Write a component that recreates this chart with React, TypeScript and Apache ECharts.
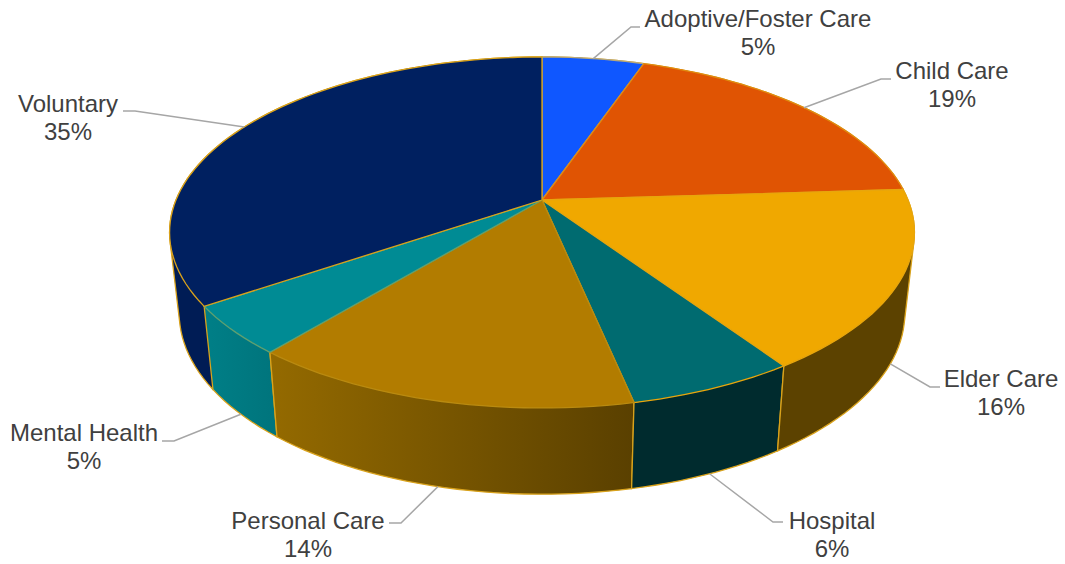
import React, { useEffect, useRef } from "react";
import * as echarts from "echarts";

const categories = ["Adoptive/Foster Care", "Child Care", "Elder Care", "Hospital", "Personal Care", "Mental Health", "Voluntary"];
const values = [5.3, 18.7, 16.55, 6.15, 14.3, 4.5, 34.5];
const percentLabels = ["5%", "19%", "16%", "6%", "14%", "5%", "35%"];

const topColors = ["#0F57FF", "#E05403", "#F0A800", "#006B70", "#B27C00", "#008B94", "#002060"];
const wallColorsStart = ["#0A3CB0", "#9C3A02", "#5C4200", "#002B2E", "#946A00", "#007F87", "#001C55"];
const wallColorsEnd = ["#0A3CB0", "#9C3A02", "#5C4200", "#002B2E", "#5A4000", "#00747C", "#001C55"];
const topStrokes = ["#B9A878", "#E08A10", "#E8A60C", "#E8A60C", "#B98A10", "#5FA070", "#D9A21B"];

// label layout: [text centre x, text centre y, elbow x, elbow y, end x]
const labelLayout = [
  [758, 32, 631, 27, 640],
  [952, 84, 881, 79, 891],
  [1001, 392, 930, 387, 940],
  [832, 534, 773, 522, 783],
  [308, 534, 401, 523, 389],
  [84, 446, 174, 441, 162],
  [68, 117, 135, 111, 123],
];
const labelOnWall = [false, false, true, true, true, true, false];

const CX = 542;
const CY = 200;
const RX = 366;
const RY = 169.5;
const PERSPECTIVE = 0.185;
const WALL_SCALE_X = 0.974;
const WALL_SCALE_Y = 1.03;
const WALL_OFFSET_Y = 74;
const EDGE = "#D9A21B";

const total = values.reduce((a, b) => a + b, 0);
const cumulative: number[] = [];
values.reduce((acc, v, i) => {
  cumulative[i] = acc;
  return acc + v;
}, 0);

function rim(share: number): number[] {
  const theta = (share / total) * Math.PI * 2;
  const X = Math.sin(theta);
  const Y = -Math.cos(theta);
  const w = 1 / (1 - PERSPECTIVE * Y);
  return [CX + RX * X * w, CY + RY * Y * w];
}
function foot(p: number[]): number[] {
  return [CX + WALL_SCALE_X * (p[0] - CX), WALL_OFFSET_Y + WALL_SCALE_Y * p[1]];
}
function arc(from: number, to: number): number[][] {
  const n = Math.max(2, Math.ceil((to - from) * 2));
  const pts: number[][] = [];
  for (let i = 0; i <= n; i++) pts.push(rim(from + ((to - from) * i) / n));
  return pts;
}
// The wall's silhouette: its top edge is hidden by the lid, so the hull also gives the tangent sides.
function hull(points: number[][]): number[][] {
  const p = points.slice().sort((a, b) => a[0] - b[0] || a[1] - b[1]);
  const cross = (o: number[], a: number[], b: number[]) => (a[0] - o[0]) * (b[1] - o[1]) - (a[1] - o[1]) * (b[0] - o[0]);
  const half = (list: number[][]) => {
    const out: number[][] = [];
    for (const q of list) {
      while (out.length >= 2 && cross(out[out.length - 2], out[out.length - 1], q) <= 0) out.pop();
      out.push(q);
    }
    out.pop();
    return out;
  };
  return half(p).concat(half(p.slice().reverse()));
}

export default function App() {
  const ref = useRef<HTMLDivElement>(null);
  useEffect(() => {
    const chart = echarts.init(ref.current!, undefined, { renderer: "svg" });
    const data = categories.map((name, i) => ({ name, value: values[i] }));
    const n = categories.length;
    chart.setOption({
      animation: false,
      backgroundColor: "#ffffff",
      series: [
        {
          type: "custom",
          coordinateSystem: "none",
          z: 1,
          silent: true,
          data: data.slice().reverse(),
          renderItem: (params: any) => {
            const i = n - 1 - params.dataIndex;
            const top = arc(cumulative[i], cumulative[i] + values[i]);
            const outline = hull(top.concat(top.map(foot)));
            const xs = outline.map((p) => p[0]);
            return {
              type: "polygon",
              shape: { points: outline },
              style: {
                fill: new echarts.graphic.LinearGradient(Math.min(...xs), 0, Math.max(...xs), 0, [
                  { offset: 0, color: wallColorsStart[i] },
                  { offset: 1, color: wallColorsEnd[i] },
                ], true),
                stroke: EDGE,
                lineWidth: 1.3,
              },
            };
          },
        },
        {
          type: "custom",
          coordinateSystem: "none",
          z: 2,
          silent: true,
          data,
          renderItem: (params: any) => {
            const i = params.dataIndex;
            const pts = [[CX, CY], ...arc(cumulative[i], cumulative[i] + values[i])];
            return {
              type: "polygon",
              shape: { points: pts },
              style: { fill: topColors[i], stroke: topStrokes[i], lineWidth: 1.3 },
            };
          },
        },
        {
          type: "custom",
          coordinateSystem: "none",
          z: 3,
          silent: true,
          data,
          renderItem: (params: any) => {
            const i = params.dataIndex;
            const [tx, ty, ex, ey, endX] = labelLayout[i];
            const mid = rim(cumulative[i] + values[i] / 2);
            const anchor = labelOnWall[i] ? foot(mid) : mid;
            return {
              type: "group",
              children: [
                {
                  type: "polyline",
                  shape: { points: [anchor, [ex, ey], [endX, ey]] },
                  style: { fill: "none", stroke: "#A6A6A6", lineWidth: 1.5 },
                },
                {
                  type: "text",
                  style: {
                    text: categories[i] + "\n" + percentLabels[i],
                    x: tx,
                    y: ty,
                    align: "center",
                    verticalAlign: "middle",
                    fill: "#404040",
                    font: '24px "Liberation Sans", Arial, sans-serif',
                    lineHeight: 28,
                  },
                },
              ],
            };
          },
        },
      ],
    });
    return () => chart.dispose();
  }, []);
  return <div ref={ref} style={{ position: "absolute", left: 0, top: 0, width: 1065, height: 564 }} />;
}
